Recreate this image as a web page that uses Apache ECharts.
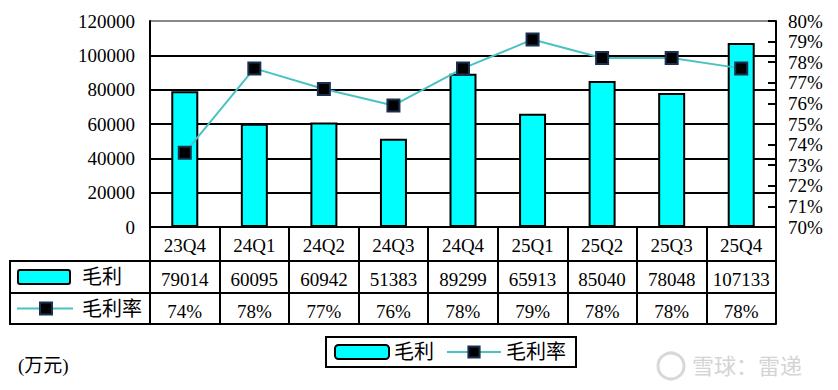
<!DOCTYPE html>
<html><head><meta charset="utf-8">
<script src="https://cdn.jsdelivr.net/npm/echarts@6/dist/echarts.min.js"></script>
<style>html,body{margin:0;padding:0;background:#fff}#c{width:838px;height:390px}</style>
</head><body><div id="c"></div>
<script>
const categories = ['23Q4','24Q1','24Q2','24Q3','24Q4','25Q1','25Q2','25Q3','25Q4'];
const grossProfit = [79014, 60095, 60942, 51383, 89299, 65913, 85040, 78048, 107133];
const grossMargin = [73.6, 77.7, 76.7, 75.9, 77.7, 79.1, 78.2, 78.2, 77.7];
const marginLabels = ['74%','78%','77%','76%','78%','79%','78%','78%','78%'];
const leftTicks = [0, 120000, 20000];
const rightTicks = [70, 80, 1];

const FONT = "'Liberation Serif','Noto Sans CJK SC',serif";
const FS = 19;
const GL = 150, GT = 21, GR = 62, GB = 163;
const W = 838, H = 390;
const yBase = H - GB;           // 227
const rowOff = [0, 34, 66, 97];  // table row lines below plot
const chart = echarts.init(document.getElementById('c'), null, {renderer:'svg'});

function tableAxis(idx, data, show, tickLen) {
  return {
    type:'category', gridIndex:0, position:'bottom', offset: rowOff[idx],
    data: data, boundaryGap:true,
    axisLine:{show:true, lineStyle:{color:'#000', width:2}},
    axisTick:{show: tickLen>0, interval:0, length: tickLen, lineStyle:{color:'#000', width:2}},
    axisLabel:{show: show, interval:0, margin:9, color:'#000', fontFamily:FONT, fontSize:FS},
    splitLine:{show:false}
  };
}

const tableLeft = 10;
const option = {
  backgroundColor:'#fff',
  animation:false,
  grid:{left:GL, top:GT, right:GR, bottom:GB, containLabel:false},
  legend:{
    left:326, top:337, orient:'horizontal',
    borderColor:'#000', borderWidth:2, padding:[5,10,5,8], itemGap:12,
    itemWidth:54, itemHeight:14,
    textStyle:{fontFamily:FONT, fontSize:20, color:'#000'},
    data:[{name:'毛利', icon:'roundRect'}, {name:'毛利率'}]
  },
  xAxis:[
    tableAxis(0, categories, true, rowOff[1]),
    tableAxis(1, grossProfit.map(String), true, rowOff[2]-rowOff[1]),
    tableAxis(2, marginLabels, true, rowOff[3]-rowOff[2]),
    tableAxis(3, categories, false, 0)
  ],
  yAxis:[
    {type:'value', min:leftTicks[0], max:leftTicks[1], interval:leftTicks[2],
     axisLine:{show:true, lineStyle:{color:'#000', width:2}},
     axisTick:{show:false},
     axisLabel:{margin:15, color:'#000', fontFamily:FONT, fontSize:FS, formatter:(v)=>String(v)},
     splitLine:{show:true, lineStyle:{color:['#000','#000','#000','#000','#000','#000','#888'], width:2}}},
    {type:'value', min:rightTicks[0], max:rightTicks[1], interval:rightTicks[2], position:'right',
     axisLine:{show:true, lineStyle:{color:'#000', width:2}},
     axisTick:{show:true, inside:true, length:8, lineStyle:{color:'#000', width:2}},
     axisLabel:{margin:12, color:'#000', fontFamily:FONT, fontSize:FS, formatter:'{value}%'},
     splitLine:{show:false}}
  ],
  series:[
    {name:'毛利', type:'bar', xAxisIndex:0, yAxisIndex:0, data:grossProfit, barWidth:27,
     itemStyle:{color:'#00ffff', borderColor:'#000', borderWidth:2}},
    {name:'毛利率', type:'line', xAxisIndex:0, yAxisIndex:1, data:grossMargin,
     symbol:'rect', symbolSize:12,
     lineStyle:{color:'#4bc2c2', width:2},
     itemStyle:{color:'#000', borderColor:'#1a3050', borderWidth:2}}
  ],
  graphic:[
    {type:'rect', shape:{x:tableLeft, y:yBase+rowOff[1], width:GL-tableLeft, height:rowOff[3]-rowOff[1]},
     style:{fill:'none', stroke:'#000', lineWidth:2}},
    {type:'line', shape:{x1:tableLeft, y1:yBase+rowOff[2], x2:GL, y2:yBase+rowOff[2]},
     style:{stroke:'#000', lineWidth:2}},
    {type:'rect', shape:{x:18, y:yBase+rowOff[1]+9, width:52, height:14, r:2},
     style:{fill:'#00ffff', stroke:'#000', lineWidth:2}},
    {type:'text', style:{x:82, y:yBase+(rowOff[1]+rowOff[2])/2, text:'毛利', fill:'#000',
     font:'20px '+FONT, verticalAlign:'middle'}},
    {type:'line', shape:{x1:17, y1:yBase+(rowOff[2]+rowOff[3])/2, x2:73, y2:yBase+(rowOff[2]+rowOff[3])/2},
     style:{stroke:'#4bc2c2', lineWidth:2}},
    {type:'rect', shape:{x:40, y:yBase+(rowOff[2]+rowOff[3])/2-6, width:12, height:12},
     style:{fill:'#000', stroke:'#1a3050', lineWidth:2}},
    {type:'text', style:{x:82, y:yBase+(rowOff[2]+rowOff[3])/2, text:'毛利率', fill:'#000',
     font:'20px '+FONT, verticalAlign:'middle'}},
    {type:'text', style:{x:18, y:365, text:'(万元)', fill:'#000', font:'19px '+FONT, verticalAlign:'middle'}},
    {type:'circle', shape:{cx:671, cy:366, r:13}, style:{fill:'none', stroke:'#d8d8d8', lineWidth:3}},
    {type:'text', style:{x:692, y:366, text:'雪球：雷递', fill:'#d4d4d4', font:'22px '+FONT, verticalAlign:'middle'}}
  ]
};
chart.setOption(option);
</script></body></html>
